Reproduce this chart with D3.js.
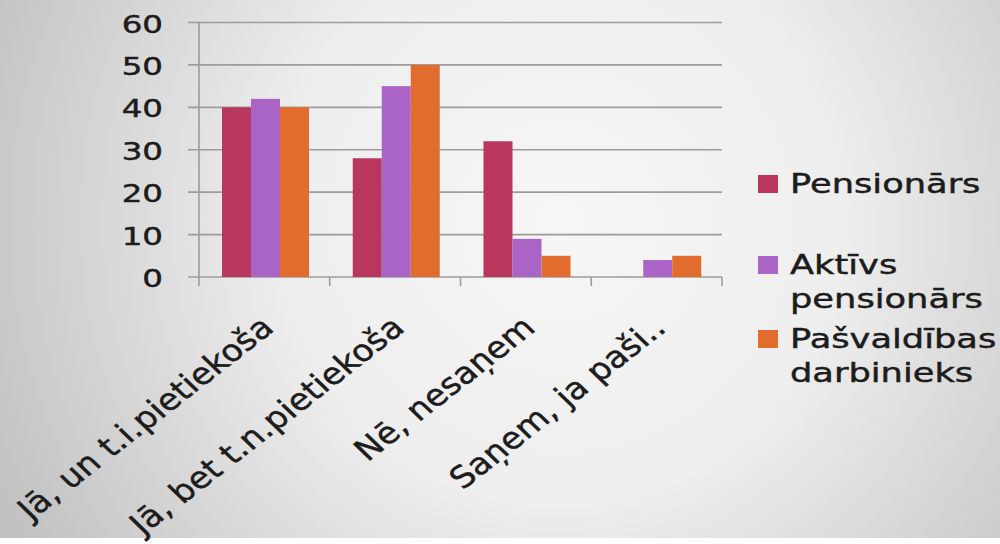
<!DOCTYPE html>
<html>
<head>
<meta charset="utf-8">
<script src="https://cdn.jsdelivr.net/npm/d3@7"></script>
<style>
  html, body { margin: 0; padding: 0; background: #ffffff; }
  svg { display: block; }
  text { font-family: "DejaVu Sans", Verdana, sans-serif; fill: #1c1c1c; stroke: #1c1c1c; stroke-width: 0.45px; }
</style>
</head>
<body>
<svg id="chart" width="1000" height="544"></svg>
<script>
const categories = ["Jā, un t.i.pietiekoša", "Jā, bet t.n.pietiekoša", "Nē, nesaņem", "Saņem, ja paši.."];
const seriesNames = ["Pensionārs", "Aktīvs pensionārs", "Pašvaldības darbinieks"];
const legendLines = [["Pensionārs"], ["Aktīvs", "pensionārs"], ["Pašvaldības", "darbinieks"]];
const pensionars = [40, 28, 32, 0];
const aktivsPensionars = [42, 45, 9, 4];
const pasvaldibasDarbinieks = [40, 50, 5, 5];
const yTicks = [0, 10, 20, 30, 40, 50, 60];
const colors = ["#b9375f", "#a964c5", "#e26c2d"];

const seriesValues = [pensionars, aktivsPensionars, pasvaldibasDarbinieks];
const svg = d3.select("#chart");
const SX = 1.3; // horizontal stretch of the original picture

// background
const defs = svg.append("defs");
const grad = defs.append("radialGradient").attr("id", "bg")
  .attr("gradientUnits", "userSpaceOnUse")
  .attr("cx", 560).attr("cy", 220).attr("r", 620);
grad.append("stop").attr("offset", "0").attr("stop-color", "#f6f6f6");
grad.append("stop").attr("offset", "0.45").attr("stop-color", "#eeeeee");
grad.append("stop").attr("offset", "1").attr("stop-color", "#c2c2c2");
svg.append("rect").attr("x", 0).attr("y", 0).attr("width", 1000).attr("height", 538).attr("fill", "url(#bg)");

const x0 = d3.scaleBand().domain(categories).range([199, 722]).padding(0);
const x1 = d3.scaleBand().domain(seriesNames).range([23, 110]).padding(0);
const y = d3.scaleLinear().domain([0, 60]).range([277, 22.5]);

// gridlines
svg.append("g").selectAll("line").data(yTicks).join("line")
  .attr("x1", 188).attr("x2", 722)
  .attr("y1", d => y(d)).attr("y2", d => y(d))
  .attr("stroke", "#9c9c9c").attr("stroke-width", 1.6);

// y axis line
svg.append("line").attr("x1", 199).attr("x2", 199).attr("y1", y(60)).attr("y2", y(0) + 9)
  .attr("stroke", "#9c9c9c").attr("stroke-width", 1.6);
// x category ticks
const bounds = categories.map(c => x0(c)).concat([x0.range()[1]]);
svg.append("g").selectAll("line").data(bounds.slice(1)).join("line")
  .attr("x1", d => d).attr("x2", d => d).attr("y1", y(0)).attr("y2", y(0) + 9)
  .attr("stroke", "#9c9c9c").attr("stroke-width", 1.6);

// bars
const groups = svg.append("g").selectAll("g").data(categories).join("g")
  .attr("transform", c => `translate(${x0(c)},0)`);
groups.selectAll("rect")
  .data((c, i) => seriesNames.map((s, j) => ({ s, j, v: seriesValues[j][i] })))
  .join("rect")
  .attr("x", d => x1(d.s))
  .attr("width", x1.bandwidth())
  .attr("y", d => y(d.v))
  .attr("height", d => y(0) - y(d.v))
  .attr("fill", d => colors[d.j]);

// y tick labels
svg.append("g").selectAll("text").data(yTicks).join("text")
  .attr("transform", d => `translate(163,${y(d) + 10}) scale(${SX},1)`)
  .attr("text-anchor", "end")
  .attr("font-size", 25)
  .text(d => d);

// x labels
svg.append("g").selectAll("text").data(categories).join("text")
  .attr("transform", c => `translate(${x0(c) + x0.bandwidth() / 2 + 11},330) scale(1.15,1) rotate(-42)`)
  .attr("text-anchor", "end")
  .attr("font-size", 30)
  .text(c => c);

// legend
const legendY = [193, 274, 348];
const lg = svg.append("g");
legendLines.forEach((lines, i) => {
  lg.append("rect").attr("x", 758).attr("y", legendY[i] - 18).attr("width", 20).attr("height", 18)
    .attr("fill", colors[i]);
  lines.forEach((t, k) => {
    lg.append("text")
      .attr("transform", `translate(790,${legendY[i] + k * 34}) scale(1.33,1)`)
      .attr("font-size", 26.5)
      .text(t);
  });
});
</script>
</body>
</html>
